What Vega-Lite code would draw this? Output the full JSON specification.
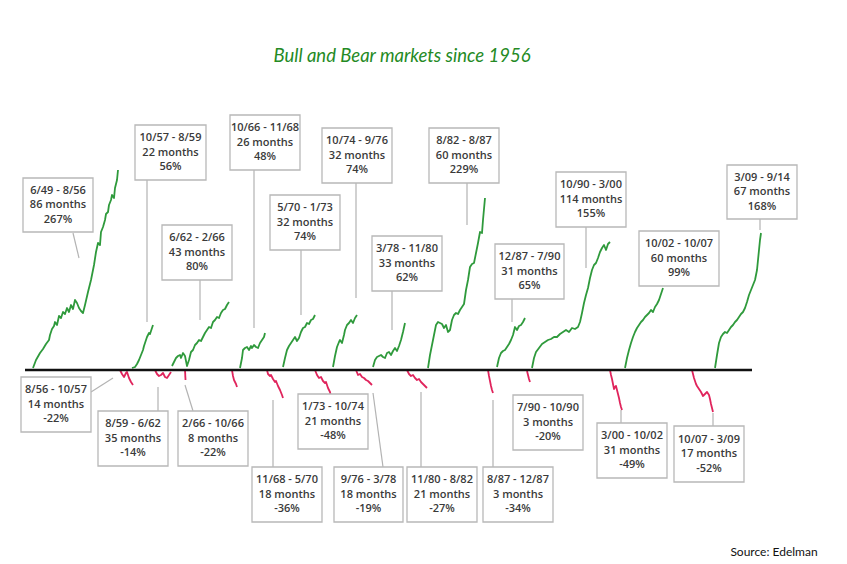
{
  "$schema": "https://vega.github.io/schema/vega-lite/v6.json",
  "width": 847,
  "height": 564,
  "autosize": {"type": "fit", "contains": "padding"},
  "padding": 0,
  "background": "white",
  "config": {"view": {"stroke": null}},
  "datasets": {
    "bull": [
      {"s":"b1","x":33,"y":2},{"s":"b1","x":36,"y":10},{"s":"b1","x":40,"y":17},{"s":"b1","x":43,"y":21},{"s":"b1","x":46,"y":26},{"s":"b1","x":49,"y":30},{"s":"b1","x":50,"y":35},{"s":"b1","x":52,"y":41},{"s":"b1","x":54,"y":44},{"s":"b1","x":55,"y":48},{"s":"b1","x":57,"y":45},{"s":"b1","x":59,"y":54},{"s":"b1","x":61,"y":52},{"s":"b1","x":63,"y":58},{"s":"b1","x":65,"y":56},{"s":"b1","x":67,"y":62},{"s":"b1","x":69,"y":58},{"s":"b1","x":71,"y":65},{"s":"b1","x":73,"y":61},{"s":"b1","x":75,"y":70},{"s":"b1","x":77,"y":67},{"s":"b1","x":79,"y":62},{"s":"b1","x":81,"y":59},{"s":"b1","x":83,"y":57},{"s":"b1","x":85,"y":65},{"s":"b1","x":88,"y":78},{"s":"b1","x":91,"y":90},{"s":"b1","x":94,"y":105},{"s":"b1","x":96,"y":118},{"s":"b1","x":98,"y":127},{"s":"b1","x":100,"y":125},{"s":"b1","x":101,"y":138},{"s":"b1","x":103,"y":143},{"s":"b1","x":105,"y":150},{"s":"b1","x":106,"y":156},{"s":"b1","x":108,"y":158},{"s":"b1","x":109,"y":165},{"s":"b1","x":111,"y":170},{"s":"b1","x":112,"y":175},{"s":"b1","x":114,"y":172},{"s":"b1","x":115,"y":182},{"s":"b1","x":117,"y":190},{"s":"b1","x":118,"y":200},
      {"s":"b2","x":132,"y":2},{"s":"b2","x":135,"y":3},{"s":"b2","x":137,"y":6},{"s":"b2","x":139,"y":10},{"s":"b2","x":141,"y":15},{"s":"b2","x":143,"y":20},{"s":"b2","x":144,"y":24},{"s":"b2","x":146,"y":30},{"s":"b2","x":147,"y":33},{"s":"b2","x":149,"y":37},{"s":"b2","x":150,"y":36},{"s":"b2","x":152,"y":42},{"s":"b2","x":153,"y":45},
      {"s":"b3","x":172,"y":4},{"s":"b3","x":174,"y":8},{"s":"b3","x":176,"y":12},{"s":"b3","x":178,"y":14},{"s":"b3","x":180,"y":15},{"s":"b3","x":181,"y":12},{"s":"b3","x":183,"y":17},{"s":"b3","x":185,"y":14},{"s":"b3","x":187,"y":4},{"s":"b3","x":189,"y":10},{"s":"b3","x":191,"y":18},{"s":"b3","x":193,"y":20},{"s":"b3","x":195,"y":25},{"s":"b3","x":197,"y":27},{"s":"b3","x":199,"y":30},{"s":"b3","x":201,"y":29},{"s":"b3","x":203,"y":33},{"s":"b3","x":205,"y":37},{"s":"b3","x":207,"y":40},{"s":"b3","x":209,"y":43},{"s":"b3","x":211,"y":42},{"s":"b3","x":213,"y":48},{"s":"b3","x":215,"y":50},{"s":"b3","x":217,"y":53},{"s":"b3","x":219,"y":52},{"s":"b3","x":221,"y":57},{"s":"b3","x":223,"y":60},{"s":"b3","x":225,"y":61},{"s":"b3","x":227,"y":65},{"s":"b3","x":229,"y":68},
      {"s":"b4","x":240,"y":2},{"s":"b4","x":242,"y":12},{"s":"b4","x":243,"y":20},{"s":"b4","x":245,"y":22},{"s":"b4","x":247,"y":23},{"s":"b4","x":249,"y":20},{"s":"b4","x":251,"y":24},{"s":"b4","x":252,"y":22},{"s":"b4","x":254,"y":25},{"s":"b4","x":256,"y":23},{"s":"b4","x":258,"y":22},{"s":"b4","x":260,"y":27},{"s":"b4","x":262,"y":30},{"s":"b4","x":264,"y":33},{"s":"b4","x":265,"y":37},
      {"s":"b5","x":283,"y":3},{"s":"b5","x":285,"y":12},{"s":"b5","x":287,"y":20},{"s":"b5","x":289,"y":24},{"s":"b5","x":291,"y":27},{"s":"b5","x":293,"y":30},{"s":"b5","x":295,"y":33},{"s":"b5","x":297,"y":29},{"s":"b5","x":299,"y":32},{"s":"b5","x":301,"y":38},{"s":"b5","x":303,"y":42},{"s":"b5","x":305,"y":43},{"s":"b5","x":307,"y":47},{"s":"b5","x":309,"y":46},{"s":"b5","x":311,"y":50},{"s":"b5","x":313,"y":51},{"s":"b5","x":315,"y":55},
      {"s":"b6","x":333,"y":3},{"s":"b6","x":335,"y":14},{"s":"b6","x":337,"y":23},{"s":"b6","x":339,"y":28},{"s":"b6","x":340,"y":30},{"s":"b6","x":342,"y":27},{"s":"b6","x":344,"y":35},{"s":"b6","x":345,"y":40},{"s":"b6","x":347,"y":45},{"s":"b6","x":349,"y":47},{"s":"b6","x":351,"y":50},{"s":"b6","x":353,"y":47},{"s":"b6","x":355,"y":52},{"s":"b6","x":357,"y":55},
      {"s":"b7","x":373,"y":3},{"s":"b7","x":375,"y":10},{"s":"b7","x":377,"y":13},{"s":"b7","x":379,"y":14},{"s":"b7","x":381,"y":15},{"s":"b7","x":383,"y":13},{"s":"b7","x":385,"y":12},{"s":"b7","x":387,"y":17},{"s":"b7","x":389,"y":18},{"s":"b7","x":391,"y":15},{"s":"b7","x":393,"y":19},{"s":"b7","x":395,"y":22},{"s":"b7","x":397,"y":19},{"s":"b7","x":399,"y":24},{"s":"b7","x":401,"y":30},{"s":"b7","x":403,"y":38},{"s":"b7","x":405,"y":47},
      {"s":"b8","x":428,"y":2},{"s":"b8","x":430,"y":15},{"s":"b8","x":432,"y":25},{"s":"b8","x":434,"y":35},{"s":"b8","x":436,"y":45},{"s":"b8","x":438,"y":48},{"s":"b8","x":440,"y":47},{"s":"b8","x":442,"y":46},{"s":"b8","x":444,"y":42},{"s":"b8","x":446,"y":45},{"s":"b8","x":448,"y":38},{"s":"b8","x":450,"y":40},{"s":"b8","x":452,"y":50},{"s":"b8","x":454,"y":55},{"s":"b8","x":456,"y":57},{"s":"b8","x":458,"y":56},{"s":"b8","x":460,"y":60},{"s":"b8","x":462,"y":63},{"s":"b8","x":464,"y":66},{"s":"b8","x":466,"y":80},{"s":"b8","x":468,"y":90},{"s":"b8","x":470,"y":103},{"s":"b8","x":472,"y":106},{"s":"b8","x":474,"y":107},{"s":"b8","x":476,"y":117},{"s":"b8","x":478,"y":127},{"s":"b8","x":480,"y":138},{"s":"b8","x":482,"y":137},{"s":"b8","x":483,"y":150},{"s":"b8","x":485,"y":172},
      {"s":"b9","x":497,"y":3},{"s":"b9","x":499,"y":12},{"s":"b9","x":501,"y":17},{"s":"b9","x":503,"y":19},{"s":"b9","x":505,"y":20},{"s":"b9","x":507,"y":23},{"s":"b9","x":509,"y":26},{"s":"b9","x":511,"y":30},{"s":"b9","x":513,"y":35},{"s":"b9","x":515,"y":43},{"s":"b9","x":517,"y":40},{"s":"b9","x":519,"y":44},{"s":"b9","x":521,"y":45},{"s":"b9","x":523,"y":48},{"s":"b9","x":525,"y":52},
      {"s":"b10","x":532,"y":2},{"s":"b10","x":534,"y":12},{"s":"b10","x":536,"y":18},{"s":"b10","x":539,"y":22},{"s":"b10","x":542,"y":26},{"s":"b10","x":545,"y":28},{"s":"b10","x":548,"y":30},{"s":"b10","x":551,"y":31},{"s":"b10","x":554,"y":33},{"s":"b10","x":557,"y":33},{"s":"b10","x":560,"y":36},{"s":"b10","x":563,"y":38},{"s":"b10","x":566,"y":40},{"s":"b10","x":569,"y":38},{"s":"b10","x":572,"y":42},{"s":"b10","x":575,"y":41},{"s":"b10","x":578,"y":43},{"s":"b10","x":580,"y":48},{"s":"b10","x":582,"y":57},{"s":"b10","x":584,"y":67},{"s":"b10","x":586,"y":75},{"s":"b10","x":588,"y":82},{"s":"b10","x":590,"y":92},{"s":"b10","x":592,"y":100},{"s":"b10","x":594,"y":105},{"s":"b10","x":596,"y":107},{"s":"b10","x":598,"y":112},{"s":"b10","x":600,"y":118},{"s":"b10","x":602,"y":122},{"s":"b10","x":604,"y":125},{"s":"b10","x":606,"y":120},{"s":"b10","x":608,"y":126},{"s":"b10","x":610,"y":128},
      {"s":"b11","x":625,"y":2},{"s":"b11","x":627,"y":12},{"s":"b11","x":629,"y":20},{"s":"b11","x":631,"y":27},{"s":"b11","x":633,"y":33},{"s":"b11","x":635,"y":38},{"s":"b11","x":637,"y":42},{"s":"b11","x":639,"y":45},{"s":"b11","x":641,"y":48},{"s":"b11","x":643,"y":50},{"s":"b11","x":645,"y":53},{"s":"b11","x":647,"y":55},{"s":"b11","x":649,"y":57},{"s":"b11","x":651,"y":60},{"s":"b11","x":653,"y":58},{"s":"b11","x":655,"y":63},{"s":"b11","x":657,"y":66},{"s":"b11","x":659,"y":70},{"s":"b11","x":661,"y":76},{"s":"b11","x":663,"y":82},
      {"s":"b12","x":715,"y":2},{"s":"b12","x":717,"y":15},{"s":"b12","x":719,"y":27},{"s":"b12","x":721,"y":33},{"s":"b12","x":723,"y":36},{"s":"b12","x":725,"y":38},{"s":"b12","x":727,"y":37},{"s":"b12","x":729,"y":40},{"s":"b12","x":731,"y":43},{"s":"b12","x":733,"y":45},{"s":"b12","x":735,"y":48},{"s":"b12","x":737,"y":50},{"s":"b12","x":739,"y":53},{"s":"b12","x":741,"y":56},{"s":"b12","x":743,"y":58},{"s":"b12","x":745,"y":62},{"s":"b12","x":747,"y":68},{"s":"b12","x":749,"y":75},{"s":"b12","x":751,"y":80},{"s":"b12","x":753,"y":85},{"s":"b12","x":755,"y":90},{"s":"b12","x":757,"y":100},{"s":"b12","x":758,"y":110},{"s":"b12","x":759,"y":120},{"s":"b12","x":760,"y":130},{"s":"b12","x":761,"y":137}
    ],
    "bear": [
      {"s":"r1","x":120,"y":0},{"s":"r1","x":122,"y":-4},{"s":"r1","x":124,"y":-7},{"s":"r1","x":126,"y":-3},{"s":"r1","x":127,"y":-2},{"s":"r1","x":129,"y":-8},{"s":"r1","x":131,"y":-12},{"s":"r1","x":133,"y":-15},
      {"s":"r2","x":155,"y":0},{"s":"r2","x":157,"y":-4},{"s":"r2","x":159,"y":-6},{"s":"r2","x":161,"y":-5},{"s":"r2","x":163,"y":-3},{"s":"r2","x":165,"y":-7},{"s":"r2","x":167,"y":-8},{"s":"r2","x":169,"y":-5},{"s":"r2","x":171,"y":-2},
      {"s":"r3","x":185,"y":0},{"s":"r3","x":185.5,"y":-10},
      {"s":"r4","x":232,"y":0},{"s":"r4","x":233,"y":-6},{"s":"r4","x":234,"y":-10},{"s":"r4","x":236,"y":-14},{"s":"r4","x":237,"y":-17},
      {"s":"r5","x":267,"y":0},{"s":"r5","x":268,"y":-4},{"s":"r5","x":270,"y":-6},{"s":"r5","x":271,"y":-5},{"s":"r5","x":273,"y":-9},{"s":"r5","x":275,"y":-12},{"s":"r5","x":276,"y":-11},{"s":"r5","x":278,"y":-16},{"s":"r5","x":280,"y":-20},{"s":"r5","x":282,"y":-25},{"s":"r5","x":283,"y":-28},
      {"s":"r6","x":315,"y":0},{"s":"r6","x":317,"y":-5},{"s":"r6","x":319,"y":-8},{"s":"r6","x":321,"y":-7},{"s":"r6","x":323,"y":-11},{"s":"r6","x":325,"y":-13},{"s":"r6","x":326,"y":-12},{"s":"r6","x":328,"y":-18},{"s":"r6","x":330,"y":-22},{"s":"r6","x":331,"y":-27},{"s":"r6","x":332,"y":-30},
      {"s":"r7","x":356,"y":0},{"s":"r7","x":358,"y":-5},{"s":"r7","x":360,"y":-4},{"s":"r7","x":362,"y":-7},{"s":"r7","x":364,"y":-8},{"s":"r7","x":366,"y":-10},{"s":"r7","x":368,"y":-11},{"s":"r7","x":370,"y":-13},{"s":"r7","x":372,"y":-15},
      {"s":"r8","x":407,"y":0},{"s":"r8","x":409,"y":-4},{"s":"r8","x":411,"y":-6},{"s":"r8","x":413,"y":-5},{"s":"r8","x":415,"y":-8},{"s":"r8","x":417,"y":-10},{"s":"r8","x":419,"y":-9},{"s":"r8","x":421,"y":-12},{"s":"r8","x":423,"y":-14},{"s":"r8","x":425,"y":-16},{"s":"r8","x":427,"y":-18},
      {"s":"r9","x":488,"y":0},{"s":"r9","x":489,"y":-6},{"s":"r9","x":490,"y":-11},{"s":"r9","x":491,"y":-16},{"s":"r9","x":492,"y":-20},{"s":"r9","x":493,"y":-23},
      {"s":"r10","x":527,"y":-1},{"s":"r10","x":528,"y":-5},{"s":"r10","x":529,"y":-9},{"s":"r10","x":530,"y":-12},
      {"s":"r11","x":610,"y":0},{"s":"r11","x":611,"y":-5},{"s":"r11","x":612,"y":-9},{"s":"r11","x":613,"y":-14},{"s":"r11","x":614,"y":-19},{"s":"r11","x":615,"y":-17},{"s":"r11","x":616,"y":-16},{"s":"r11","x":617,"y":-20},{"s":"r11","x":618,"y":-24},{"s":"r11","x":619,"y":-28},{"s":"r11","x":620,"y":-33},{"s":"r11","x":621,"y":-37},{"s":"r11","x":622,"y":-40},
      {"s":"r12","x":692,"y":0},{"s":"r12","x":693,"y":-4},{"s":"r12","x":694,"y":-8},{"s":"r12","x":695,"y":-11},{"s":"r12","x":696,"y":-14},{"s":"r12","x":697,"y":-16},{"s":"r12","x":699,"y":-19},{"s":"r12","x":701,"y":-22},{"s":"r12","x":703,"y":-26},{"s":"r12","x":705,"y":-24},{"s":"r12","x":707,"y":-22},{"s":"r12","x":709,"y":-25},{"s":"r12","x":710,"y":-29},{"s":"r12","x":711,"y":-34},{"s":"r12","x":712,"y":-38},{"s":"r12","x":713,"y":-42}
    ],
    "boxes": [
      {"x1":23,"x2":93,"y1":192,"y2":138,"cx":58,"cy":165,"label":"6/49 - 8/56\n86 months\n267%"},
      {"x1":135,"x2":206,"y1":245,"y2":190,"cx":170.5,"cy":217.5,"label":"10/57 - 8/59\n22 months\n56%"},
      {"x1":162,"x2":232,"y1":145,"y2":90,"cx":197,"cy":117.5,"label":"6/62 - 2/66\n43 months\n80%"},
      {"x1":230,"x2":300,"y1":255,"y2":200,"cx":265,"cy":227.5,"label":"10/66 - 11/68\n26 months\n48%"},
      {"x1":270,"x2":340,"y1":175,"y2":120,"cx":305,"cy":147.5,"label":"5/70 - 1/73\n32 months\n74%"},
      {"x1":322,"x2":392,"y1":242,"y2":187,"cx":357,"cy":214.5,"label":"10/74 - 9/76\n32 months\n74%"},
      {"x1":372,"x2":442,"y1":134,"y2":79,"cx":407,"cy":106.5,"label":"3/78 - 11/80\n33 months\n62%"},
      {"x1":429,"x2":499,"y1":242,"y2":187,"cx":464,"cy":214.5,"label":"8/82 - 8/87\n60 months\n229%"},
      {"x1":495,"x2":564,"y1":126,"y2":71,"cx":529.5,"cy":98.5,"label":"12/87 - 7/90\n31 months\n65%"},
      {"x1":556,"x2":626,"y1":198,"y2":143,"cx":591,"cy":170.5,"label":"10/90 - 3/00\n114 months\n155%"},
      {"x1":639,"x2":719,"y1":139,"y2":84,"cx":679,"cy":111.5,"label":"10/02 - 10/07\n60 months\n99%"},
      {"x1":727,"x2":797,"y1":205,"y2":151,"cx":762,"cy":178,"label":"3/09 - 9/14\n67 months\n168%"},
      {"x1":21,"x2":91,"y1":-7,"y2":-62,"cx":56,"cy":-34.5,"label":"8/56 - 10/57\n14 months\n-22%"},
      {"x1":98,"x2":168,"y1":-41,"y2":-96,"cx":133,"cy":-68.5,"label":"8/59 - 6/62\n35 months\n-14%"},
      {"x1":178,"x2":248,"y1":-41,"y2":-96,"cx":213,"cy":-68.5,"label":"2/66 - 10/66\n8 months\n-22%"},
      {"x1":252,"x2":322,"y1":-97,"y2":-152,"cx":287,"cy":-124.5,"label":"11/68 - 5/70\n18 months\n-36%"},
      {"x1":298,"x2":368,"y1":-24,"y2":-79,"cx":333,"cy":-51.5,"label":"1/73 - 10/74\n21 months\n-48%"},
      {"x1":334,"x2":403,"y1":-97,"y2":-152,"cx":368.5,"cy":-124.5,"label":"9/76 - 3/78\n18 months\n-19%"},
      {"x1":407,"x2":477,"y1":-97,"y2":-152,"cx":442,"cy":-124.5,"label":"11/80 - 8/82\n21 months\n-27%"},
      {"x1":483,"x2":553,"y1":-97,"y2":-152,"cx":518,"cy":-124.5,"label":"8/87 - 12/87\n3 months\n-34%"},
      {"x1":513,"x2":583,"y1":-25,"y2":-80,"cx":548,"cy":-52.5,"label":"7/90 - 10/90\n3 months\n-20%"},
      {"x1":597,"x2":667,"y1":-53,"y2":-108,"cx":632,"cy":-80.5,"label":"3/00 - 10/02\n31 months\n-49%"},
      {"x1":674,"x2":744,"y1":-56,"y2":-112,"cx":709,"cy":-84,"label":"10/07 - 3/09\n17 months\n-52%"}
    ],
    "pointers": [
      {"x1":73,"y1":137,"x2":79,"y2":112},
      {"x1":147,"y1":190,"x2":147,"y2":48},
      {"x1":200,"y1":90,"x2":200,"y2":50},
      {"x1":254,"y1":200,"x2":254,"y2":42},
      {"x1":301,"y1":120,"x2":301,"y2":55},
      {"x1":356,"y1":187,"x2":356,"y2":72},
      {"x1":392,"y1":79,"x2":392,"y2":40},
      {"x1":467,"y1":187,"x2":467,"y2":145},
      {"x1":512,"y1":71,"x2":512,"y2":48},
      {"x1":586,"y1":143,"x2":586,"y2":102},
      {"x1":760,"y1":151,"x2":760,"y2":140},
      {"x1":91,"y1":-22,"x2":113,"y2":-8},
      {"x1":158,"y1":-17,"x2":158,"y2":-41},
      {"x1":185,"y1":-15,"x2":193,"y2":-41},
      {"x1":273,"y1":-30,"x2":273,"y2":-97},
      {"x1":373,"y1":-23,"x2":383,"y2":-97},
      {"x1":421,"y1":-22,"x2":421,"y2":-97},
      {"x1":493,"y1":-30,"x2":493,"y2":-97},
      {"x1":621,"y1":-40,"x2":621,"y2":-53},
      {"x1":713,"y1":-43,"x2":713,"y2":-56}
    ],
    "base": [{"x1":25,"x2":752,"y":0}],
    "notes": [
      {"x":402,"y":314,"label":"Bull and Bear markets since 1956","kind":"title"},
      {"x":774,"y":-182,"label":"Source: Edelman","kind":"source"}
    ]
  },
  "layer": [
    {
      "data": {"name": "pointers"},
      "mark": {"type": "rule", "color": "#b3b3b3", "strokeWidth": 1.2},
      "encoding": {
        "x": {"field": "x1", "type": "quantitative", "scale": {"domain": [0, 847], "nice": false, "zero": false}, "axis": null},
        "y": {"field": "y1", "type": "quantitative", "scale": {"domain": [-194, 370], "nice": false, "zero": false}, "axis": null},
        "x2": {"field": "x2"},
        "y2": {"field": "y2"}
      }
    },
    {
      "data": {"name": "bull"},
      "mark": {"type": "line", "color": "#2f9a3c", "strokeWidth": 1.8, "strokeJoin": "round"},
      "encoding": {
        "x": {"field": "x", "type": "quantitative"},
        "y": {"field": "y", "type": "quantitative"},
        "detail": {"field": "s"}
      }
    },
    {
      "data": {"name": "bear"},
      "mark": {"type": "line", "color": "#e0245c", "strokeWidth": 1.8, "strokeJoin": "round"},
      "encoding": {
        "x": {"field": "x", "type": "quantitative"},
        "y": {"field": "y", "type": "quantitative"},
        "detail": {"field": "s"}
      }
    },
    {
      "data": {"name": "base"},
      "mark": {"type": "rule", "color": "#111111", "strokeWidth": 2.5},
      "encoding": {
        "x": {"field": "x1", "type": "quantitative"},
        "x2": {"field": "x2"},
        "y": {"field": "y", "type": "quantitative"}
      }
    },
    {
      "data": {"name": "boxes"},
      "mark": {"type": "rect", "fill": "white", "stroke": "#b8b8b8", "strokeWidth": 1.3},
      "encoding": {
        "x": {"field": "x1", "type": "quantitative"},
        "x2": {"field": "x2"},
        "y": {"field": "y1", "type": "quantitative"},
        "y2": {"field": "y2"}
      }
    },
    {
      "data": {"name": "boxes"},
      "mark": {"type": "text", "font": "Open Sans", "fontSize": 11, "fontWeight": 600, "color": "#3a3a3a", "lineBreak": "\n", "lineHeight": 14.5, "baseline": "middle", "align": "center", "dy": -14.5},
      "encoding": {
        "x": {"field": "cx", "type": "quantitative"},
        "y": {"field": "cy", "type": "quantitative"},
        "text": {"field": "label"}
      }
    },
    {
      "data": {"name": "notes"},
      "transform": [{"filter": "datum.kind == 'title'"}],
      "mark": {"type": "text", "font": "Lato", "fontStyle": "italic", "fontSize": 18.5, "color": "#248a24", "baseline": "middle", "align": "center"},
      "encoding": {
        "x": {"field": "x", "type": "quantitative"},
        "y": {"field": "y", "type": "quantitative"},
        "text": {"field": "label"}
      }
    },
    {
      "data": {"name": "notes"},
      "transform": [{"filter": "datum.kind == 'source'"}],
      "mark": {"type": "text", "font": "Lato", "fontSize": 12, "color": "#111111", "baseline": "middle", "align": "center"},
      "encoding": {
        "x": {"field": "x", "type": "quantitative"},
        "y": {"field": "y", "type": "quantitative"},
        "text": {"field": "label"}
      }
    }
  ]
}
